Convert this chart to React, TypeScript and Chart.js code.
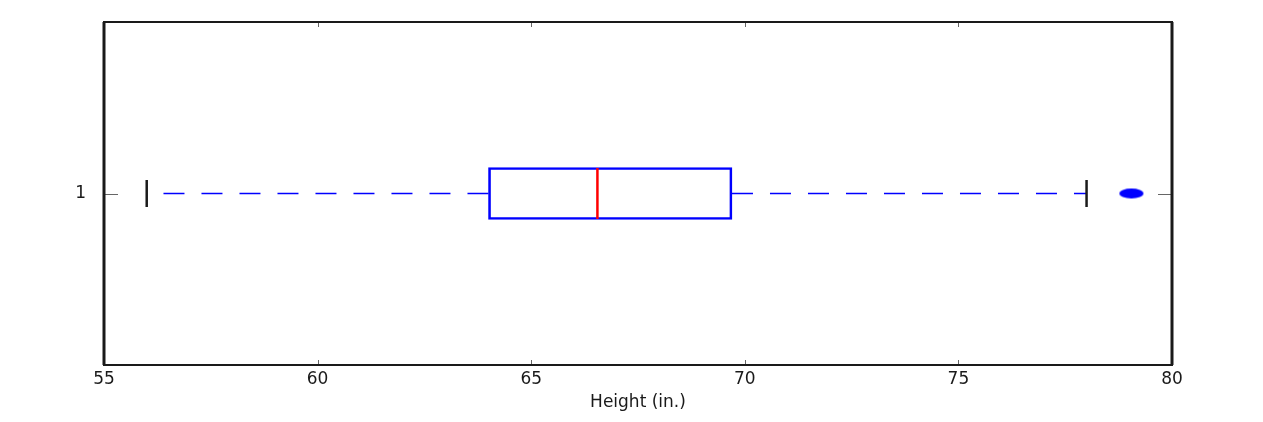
import React, { useEffect, useRef } from "react";
import { Chart, registerables } from "chart.js";

Chart.register(...registerables);

// ---- data ----
const categories: string[] = ["1"];
const whiskerLow: number[] = [56];
const q1: number[] = [64];
const median: number[] = [66.55];
const q3: number[] = [69.7];
const whiskerHigh: number[] = [78];
const outliers: number[][] = [[79.05]];
const xTickMin = 55;
const xTickMax = 80;
const xTickStep = 5;
const xTitle = "Height (in.)";

const BLUE = "#0000ff";
const RED = "#ff0000";
const INK = "#1a1a1a";
const FONT = "DejaVu Sans";

function makeEllipse(): HTMLCanvasElement {
  const c = document.createElement("canvas");
  c.width = 26;
  c.height = 12;
  const g = c.getContext("2d")!;
  g.fillStyle = BLUE;
  g.beginPath();
  g.ellipse(13, 6, 12, 5, 0, 0, Math.PI * 2);
  g.fill();
  return c;
}

const boxPlugin = {
  id: "boxExtras",
  afterDatasetsDraw(chart: any) {
    const ctx = chart.ctx;
    const xs = chart.scales.x;
    const ys = chart.scales.y;
    const boxHalf = 25.5;
    const capHalf = 13.5;
    categories.forEach((_, i) => {
      const yc = ys.getPixelForValue(i);
      const pLo = xs.getPixelForValue(whiskerLow[i]);
      const pQ1 = xs.getPixelForValue(q1[i]);
      const pMed = xs.getPixelForValue(median[i]);
      const pQ3 = xs.getPixelForValue(q3[i]);
      const pHi = xs.getPixelForValue(whiskerHigh[i]);
      ctx.save();
      ctx.strokeStyle = BLUE;
      ctx.lineWidth = 1.5;
      ctx.setLineDash([21, 17]);
      ctx.lineDashOffset = 0;
      ctx.beginPath();
      ctx.moveTo(pQ1, yc);
      ctx.lineTo(pLo, yc);
      ctx.stroke();
      ctx.beginPath();
      ctx.moveTo(pQ3, yc);
      ctx.lineTo(pHi, yc);
      ctx.stroke();
      ctx.setLineDash([]);
      ctx.strokeStyle = INK;
      ctx.lineWidth = 2.5;
      [pLo, pHi].forEach((p) => {
        ctx.beginPath();
        ctx.moveTo(p, yc - capHalf);
        ctx.lineTo(p, yc + capHalf);
        ctx.stroke();
      });
      ctx.strokeStyle = RED;
      ctx.lineWidth = 2.5;
      ctx.beginPath();
      ctx.moveTo(pMed, yc - boxHalf);
      ctx.lineTo(pMed, yc + boxHalf);
      ctx.stroke();
      ctx.restore();
    });
  },
  afterDraw(chart: any) {
    const ctx = chart.ctx;
    const a = chart.chartArea;
    const xs = chart.scales.x;
    const ys = chart.scales.y;
    ctx.save();
    ctx.strokeStyle = "#666";
    ctx.lineWidth = 1;
    xs.ticks.forEach((t: any) => {
      const p = Math.round(xs.getPixelForValue(t.value)) + 0.5;
      ctx.beginPath();
      ctx.moveTo(p, a.bottom);
      ctx.lineTo(p, a.bottom - 5);
      ctx.moveTo(p, a.top);
      ctx.lineTo(p, a.top + 5);
      ctx.stroke();
    });
    categories.forEach((_, i) => {
      const p = Math.round(ys.getPixelForValue(i)) + 0.5;
      ctx.beginPath();
      ctx.moveTo(a.left, p);
      ctx.lineTo(a.left + 14, p);
      ctx.moveTo(a.right, p);
      ctx.lineTo(a.right - 14, p);
      ctx.stroke();
    });
    ctx.strokeStyle = INK;
    ctx.lineWidth = 2;
    ctx.strokeRect(a.left, a.top, a.right - a.left, a.bottom - a.top);
    ctx.lineWidth = 3;
    ctx.beginPath();
    ctx.moveTo(a.left, a.top);
    ctx.lineTo(a.left, a.bottom);
    ctx.moveTo(a.right, a.top);
    ctx.lineTo(a.right, a.bottom);
    ctx.stroke();
    ctx.restore();
  },
};

export default function App() {
  const ref = useRef<HTMLCanvasElement | null>(null);
  useEffect(() => {
    if (!ref.current) return;
    const ellipse = makeEllipse();
    const chart = new Chart(ref.current, {
      type: "bar",
      data: {
        labels: categories,
        datasets: [
          {
            type: "bar",
            label: "box",
            data: categories.map((_, i) => [q1[i], q3[i]]) as any,
            backgroundColor: "rgba(0,0,0,0)",
            borderColor: BLUE,
            borderWidth: 2,
            borderSkipped: false,
            barThickness: 52,
          } as any,
          {
            type: "scatter",
            label: "outliers",
            data: outliers.flatMap((arr, i) => arr.map((v) => ({ x: v, y: categories[i] }))) as any,
            pointStyle: ellipse as any,
            pointRadius: 6,
          } as any,
        ],
      },
      options: {
        indexAxis: "y",
        responsive: false,
        animation: false,
        events: [],
        layout: { padding: { left: 0, top: 22, right: 91, bottom: 0 } },
        plugins: { legend: { display: false }, tooltip: { enabled: false } },
        scales: {
          x: {
            type: "linear",
            min: xTickMin,
            max: xTickMax,
            border: { display: false },
            grid: { display: false, drawTicks: false },
            ticks: {
              stepSize: xTickStep,
              color: INK,
              padding: 4,
              font: { family: FONT, size: 17 },
              maxRotation: 0,
            },
            title: {
              display: true,
              text: xTitle,
              color: INK,
              font: { family: FONT, size: 17 },
              padding: { top: 0, bottom: 9 },
            },
            afterFit: (s: any) => {
              s.height = 57;
            },
          },
          y: {
            type: "category",
            offset: true,
            border: { display: false },
            grid: { display: false, drawTicks: false },
            ticks: {
              color: INK,
              padding: 18,
              font: { family: FONT, size: 17 },
            },
            afterFit: (s: any) => {
              s.width = 104;
              s.paddingTop = 0;
              s.paddingBottom = 0;
            },
          },
        },
      } as any,
      plugins: [boxPlugin],
    });
    return () => chart.destroy();
  }, []);
  return (
    <div style={{ position: "fixed", left: 0, top: 0, width: 1263, height: 422, background: "#fff" }}>
      <canvas ref={ref} width={1263} height={422} />
    </div>
  );
}
